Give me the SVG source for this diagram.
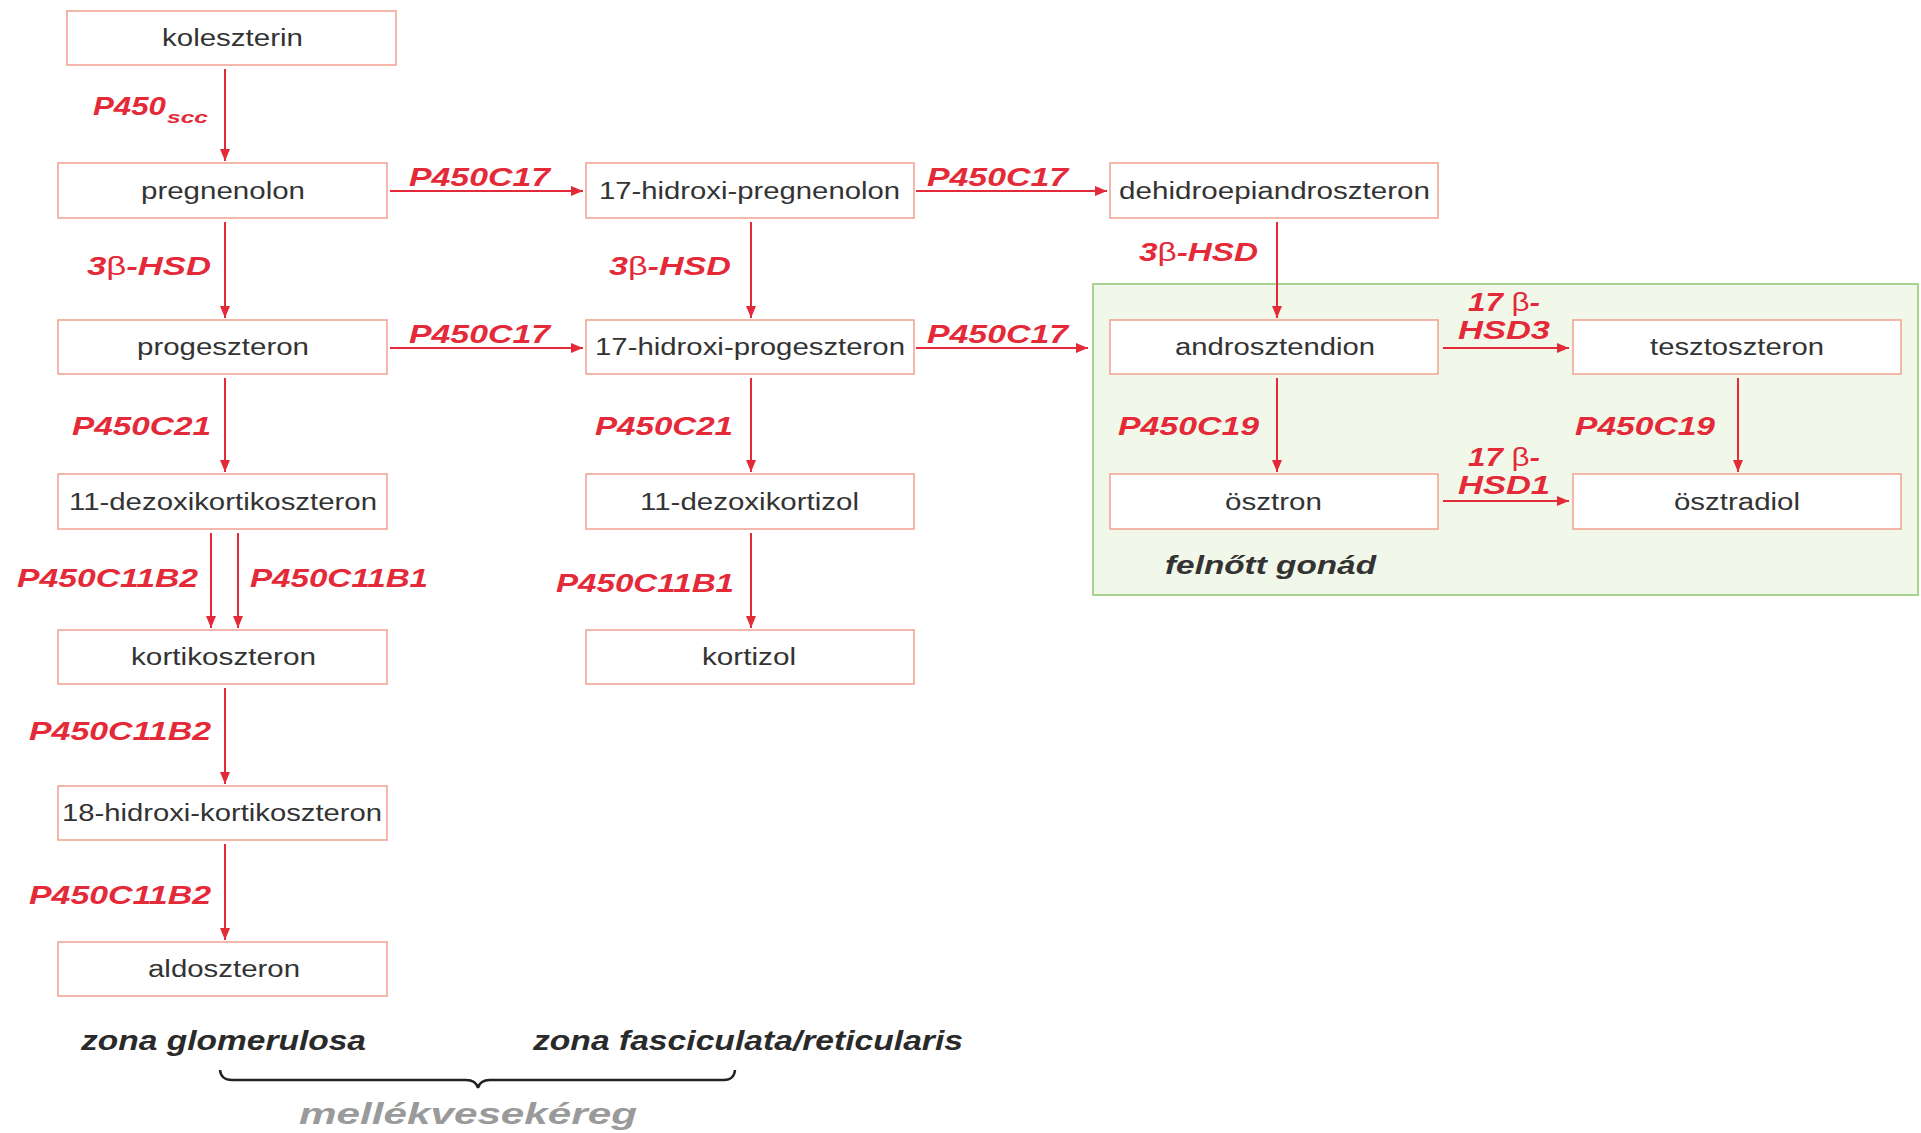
<svg xmlns="http://www.w3.org/2000/svg" width="1921" height="1133" viewBox="0 0 1921 1133">
<defs>
<style>
.box{fill:#ffffff;stroke:#f2a595;stroke-width:1.6}
.nt{font-family:"Liberation Sans",Arial,sans-serif;font-size:23px;fill:#333333;text-anchor:start}
.lb{font-family:"Liberation Sans",Arial,sans-serif;font-size:25px;font-weight:bold;font-style:italic;fill:#e42a38}
.beta{font-style:normal;font-weight:normal}
.ar{stroke:#e42a38;stroke-width:2;fill:none;marker-end:url(#ah)}
.zn{font-family:"Liberation Sans",Arial,sans-serif;font-size:27px;font-weight:bold;font-style:italic;fill:#2a2a2a}
</style>
<marker id="ah" viewBox="0 0 12 10" refX="12" refY="5" markerWidth="12" markerHeight="10" markerUnits="userSpaceOnUse" orient="auto">
<path d="M0,0 L12,5 L0,10 z" fill="#e42a38"/>
</marker>
</defs>
<rect width="1921" height="1133" fill="#ffffff"/>
<g id="gonad-region">
<rect x="1093" y="284" width="825" height="311" fill="#f1f8e9" stroke="#a9d28f" stroke-width="2"/>
<text x="1165" y="574" class="zn" style="font-size:26px;fill:#333333" textLength="211" lengthAdjust="spacingAndGlyphs">felnőtt gonád</text>
</g>
<g id="connectors">
<line class="ar" x1="225" y1="69" x2="225" y2="161"/>
<line class="ar" x1="225" y1="222" x2="225" y2="318"/>
<line class="ar" x1="225" y1="378" x2="225" y2="472"/>
<line class="ar" x1="211" y1="533" x2="211" y2="628"/>
<line class="ar" x1="238" y1="533" x2="238" y2="628"/>
<line class="ar" x1="225" y1="688" x2="225" y2="784"/>
<line class="ar" x1="225" y1="844" x2="225" y2="940"/>
<line class="ar" x1="751" y1="222" x2="751" y2="318"/>
<line class="ar" x1="751" y1="378" x2="751" y2="472"/>
<line class="ar" x1="751" y1="533" x2="751" y2="628"/>
<line class="ar" x1="1277" y1="222" x2="1277" y2="318"/>
<line class="ar" x1="1277" y1="378" x2="1277" y2="472"/>
<line class="ar" x1="1738" y1="378" x2="1738" y2="472"/>
<line class="ar" x1="390" y1="191" x2="583" y2="191"/>
<line class="ar" x1="916" y1="191" x2="1107" y2="191"/>
<line class="ar" x1="390" y1="348" x2="583" y2="348"/>
<line class="ar" x1="916" y1="348" x2="1088" y2="348"/>
<line class="ar" x1="1443" y1="348" x2="1569" y2="348"/>
<line class="ar" x1="1443" y1="501" x2="1569" y2="501"/>
</g>
<g id="labels">
<text x="93" y="115" class="lb" style="font-size:26px" textLength="73" lengthAdjust="spacingAndGlyphs">P450</text>
<text x="167" y="123" class="lb" style="font-size:17px" textLength="41" lengthAdjust="spacingAndGlyphs">scc</text>
<text x="87" y="275" class="lb" textLength="124" lengthAdjust="spacingAndGlyphs">3<tspan class="beta">β</tspan>-HSD</text>
<text x="409" y="186" class="lb" textLength="141" lengthAdjust="spacingAndGlyphs">P450C17</text>
<text x="927" y="186" class="lb" textLength="141" lengthAdjust="spacingAndGlyphs">P450C17</text>
<text x="609" y="275" class="lb" textLength="122" lengthAdjust="spacingAndGlyphs">3<tspan class="beta">β</tspan>-HSD</text>
<text x="1139" y="261" class="lb" textLength="119" lengthAdjust="spacingAndGlyphs">3<tspan class="beta">β</tspan>-HSD</text>
<text x="409" y="343" class="lb" textLength="141" lengthAdjust="spacingAndGlyphs">P450C17</text>
<text x="927" y="343" class="lb" textLength="141" lengthAdjust="spacingAndGlyphs">P450C17</text>
<text x="1468" y="311" class="lb" textLength="72" lengthAdjust="spacingAndGlyphs">17 <tspan class="beta">β</tspan>-</text>
<text x="1458" y="339" class="lb" textLength="92" lengthAdjust="spacingAndGlyphs">HSD3</text>
<text x="72" y="435" class="lb" textLength="139" lengthAdjust="spacingAndGlyphs">P450C21</text>
<text x="595" y="435" class="lb" textLength="138" lengthAdjust="spacingAndGlyphs">P450C21</text>
<text x="1118" y="435" class="lb" textLength="141" lengthAdjust="spacingAndGlyphs">P450C19</text>
<text x="1575" y="435" class="lb" textLength="140" lengthAdjust="spacingAndGlyphs">P450C19</text>
<text x="1468" y="466" class="lb" textLength="72" lengthAdjust="spacingAndGlyphs">17 <tspan class="beta">β</tspan>-</text>
<text x="1458" y="494" class="lb" textLength="92" lengthAdjust="spacingAndGlyphs">HSD1</text>
<text x="17" y="587" class="lb" textLength="181" lengthAdjust="spacingAndGlyphs">P450C11B2</text>
<text x="250" y="587" class="lb" textLength="178" lengthAdjust="spacingAndGlyphs">P450C11B1</text>
<text x="556" y="592" class="lb" textLength="178" lengthAdjust="spacingAndGlyphs">P450C11B1</text>
<text x="29" y="740" class="lb" textLength="182" lengthAdjust="spacingAndGlyphs">P450C11B2</text>
<text x="29" y="904" class="lb" textLength="182" lengthAdjust="spacingAndGlyphs">P450C11B2</text>
</g>
<g id="n-koleszterin"><rect class="box" x="67" y="11" width="329" height="54"/><text class="nt" x="162" y="46" textLength="141" lengthAdjust="spacingAndGlyphs">koleszterin</text></g>
<g id="n-pregnenolon"><rect class="box" x="58" y="163" width="329" height="55"/><text class="nt" x="141" y="199" textLength="164" lengthAdjust="spacingAndGlyphs">pregnenolon</text></g>
<g id="n-progeszteron"><rect class="box" x="58" y="320" width="329" height="54"/><text class="nt" x="137" y="355" textLength="172" lengthAdjust="spacingAndGlyphs">progeszteron</text></g>
<g id="n-11-dezoxikortikoszteron"><rect class="box" x="58" y="474" width="329" height="55"/><text class="nt" x="69" y="510" textLength="308" lengthAdjust="spacingAndGlyphs">11-dezoxikortikoszteron</text></g>
<g id="n-kortikoszteron"><rect class="box" x="58" y="630" width="329" height="54"/><text class="nt" x="131" y="665" textLength="185" lengthAdjust="spacingAndGlyphs">kortikoszteron</text></g>
<g id="n-18-hidroxi-kortikoszteron"><rect class="box" x="58" y="786" width="329" height="54"/><text class="nt" x="62" y="821" textLength="320" lengthAdjust="spacingAndGlyphs">18-hidroxi-kortikoszteron</text></g>
<g id="n-aldoszteron"><rect class="box" x="58" y="942" width="329" height="54"/><text class="nt" x="148" y="977" textLength="152" lengthAdjust="spacingAndGlyphs">aldoszteron</text></g>
<g id="n-17-hidroxi-pregnenolon"><rect class="box" x="586" y="163" width="328" height="55"/><text class="nt" x="599" y="199" textLength="301" lengthAdjust="spacingAndGlyphs">17-hidroxi-pregnenolon</text></g>
<g id="n-17-hidroxi-progeszteron"><rect class="box" x="586" y="320" width="328" height="54"/><text class="nt" x="595" y="355" textLength="310" lengthAdjust="spacingAndGlyphs">17-hidroxi-progeszteron</text></g>
<g id="n-11-dezoxikortizol"><rect class="box" x="586" y="474" width="328" height="55"/><text class="nt" x="640" y="510" textLength="219" lengthAdjust="spacingAndGlyphs">11-dezoxikortizol</text></g>
<g id="n-kortizol"><rect class="box" x="586" y="630" width="328" height="54"/><text class="nt" x="702" y="665" textLength="94" lengthAdjust="spacingAndGlyphs">kortizol</text></g>
<g id="n-dehidroepiandroszteron"><rect class="box" x="1110" y="163" width="328" height="55"/><text class="nt" x="1119" y="199" textLength="311" lengthAdjust="spacingAndGlyphs">dehidroepiandroszteron</text></g>
<g id="n-androsztendion"><rect class="box" x="1110" y="320" width="328" height="54"/><text class="nt" x="1175" y="355" textLength="200" lengthAdjust="spacingAndGlyphs">androsztendion</text></g>
<g id="n-osztron"><rect class="box" x="1110" y="474" width="328" height="55"/><text class="nt" x="1225" y="510" textLength="97" lengthAdjust="spacingAndGlyphs">ösztron</text></g>
<g id="n-tesztoszteron"><rect class="box" x="1573" y="320" width="328" height="54"/><text class="nt" x="1650" y="355" textLength="174" lengthAdjust="spacingAndGlyphs">tesztoszteron</text></g>
<g id="n-osztradiol"><rect class="box" x="1573" y="474" width="328" height="55"/><text class="nt" x="1674" y="510" textLength="126" lengthAdjust="spacingAndGlyphs">ösztradiol</text></g>
<g id="zones">
<text x="81" y="1050" class="zn" textLength="285" lengthAdjust="spacingAndGlyphs">zona glomerulosa</text>
<text x="533" y="1050" class="zn" textLength="430" lengthAdjust="spacingAndGlyphs">zona fasciculata/reticularis</text>
<path d="M220,1070 Q221,1080 232,1080 L466,1080 Q476,1080 478,1088 Q480,1080 490,1080 L724,1080 Q734,1080 735,1070" fill="none" stroke="#222" stroke-width="2.5"/>
<text x="299" y="1124" class="zn" style="font-size:30px;fill:#9a9a9a" textLength="338" lengthAdjust="spacingAndGlyphs">mellékvesekéreg</text>
</g>
</svg>
